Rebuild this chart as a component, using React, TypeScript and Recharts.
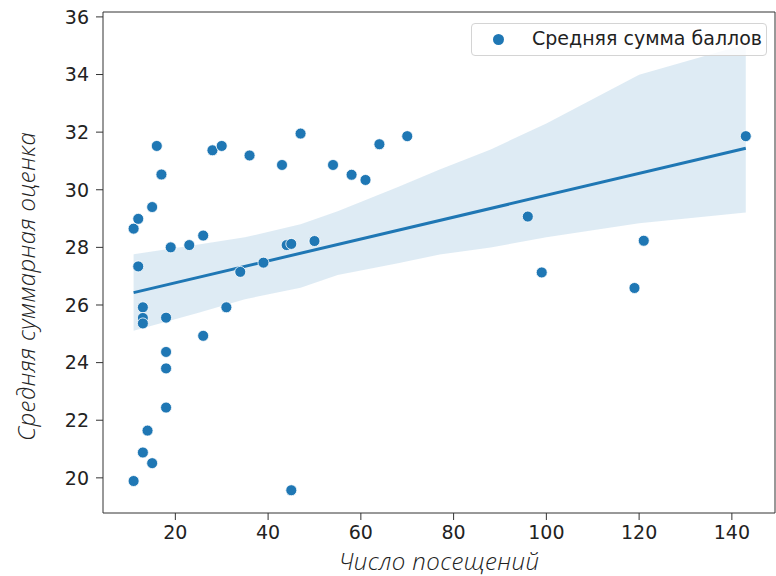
import { ComposedChart, Scatter, Line, Area, XAxis, YAxis, ReferenceLine } from "recharts";

// scatter: visits vs. mean score
const visits = [11, 12, 12, 13, 13, 13, 11, 13, 14, 15, 15, 16, 17, 18, 18, 18, 18, 19, 23, 26, 26, 28, 30, 31, 34, 39, 36, 43, 47, 44, 45, 45, 50, 54, 58, 61, 64, 70, 96, 99, 119, 121, 143];
const avgScore = [28.65, 28.99, 27.34, 25.92, 25.55, 25.36, 19.89, 20.88, 21.64, 20.51, 29.4, 31.52, 30.53, 25.56, 24.37, 23.8, 22.44, 28.0, 28.08, 28.41, 24.93, 31.37, 31.52, 25.92, 27.15, 27.47, 31.19, 30.86, 31.95, 28.08, 28.12, 19.57, 28.22, 30.86, 30.52, 30.34, 31.58, 31.86, 29.07, 27.13, 26.59, 28.23, 31.86];

// regression line end points
const regX = [11, 143];
const regY = [26.43, 31.44];

// confidence band
const bandX = [11, 25, 35, 47, 55, 68, 77, 88, 100, 120, 143];
const bandLow = [25.11, 25.73, 26.2, 26.6, 27.04, 27.45, 27.75, 28.0, 28.35, 28.84, 29.21];
const bandHigh = [27.76, 28.1, 28.35, 28.8, 29.25, 30.1, 30.7, 31.4, 32.3, 33.99, 35.05];

const xTicks = [20, 40, 60, 80, 100, 120, 140];
const yTicks = [20, 22, 24, 26, 28, 30, 32, 34, 36];

const points = visits.map((x, i) => ({ x, y: avgScore[i] }));
const reg = regX.map((x, i) => ({ x, y: regY[i] }));
const band = bandX.map((x, i) => ({ x, range: [bandLow[i], bandHigh[i]] }));

const X_DOMAIN = [4.4, 149.3];
const Y_DOMAIN = [18.78, 36.17];
const BLUE = "#1f77b4";

const tickStyle = { fontSize: 19, fill: "#222", fontFamily: "DejaVu Sans" };
const labelStyle = {
	fontSize: 24,
	fill: "#222",
	fontFamily: "Open Sans",
	fontStyle: "italic",
	fontWeight: 300,
	letterSpacing: 0.4,
};

const Dot = (props: any) => (
	<circle cx={props.cx} cy={props.cy} r={5.5} fill={BLUE} stroke="#fff" strokeWidth={0.8} />
);

const renderLegend = () => (
	<div
		style={{
			position: "absolute",
			left: 471,
			top: 23,
			width: 294,
			height: 31,
			border: "1px solid #d4d4d4",
			borderRadius: 4,
			background: "rgba(255,255,255,0.8)",
			fontFamily: "DejaVu Sans",
			fontSize: 19,
			color: "#222",
		}}
	>
		<span
			style={{
				position: "absolute",
				left: 21,
				top: 10,
				width: 11,
				height: 11,
				borderRadius: "50%",
				background: BLUE,
			}}
		></span>
		<span style={{ position: "absolute", left: 60, top: 3, whiteSpace: "nowrap" }}>Средняя сумма баллов</span>
	</div>
);

export default function App() {
	return (
		<div style={{ position: "absolute", left: 0, top: 0, width: 776, height: 576, background: "#fff" }}>
			<ComposedChart width={776} height={576} margin={{ top: 12, right: 1, bottom: 0, left: 0 }}>
				<XAxis
					type="number"
					dataKey="x"
					domain={X_DOMAIN}
					ticks={xTicks}
					allowDataOverflow
					height={63}
					tickSize={7}
					tickMargin={6}
					tick={tickStyle}
					stroke="#333"
					tickLine={{ stroke: "#333" }}
					label={{ value: "Число посещений", position: "insideBottom", offset: 6, style: labelStyle }}
				/>
				<YAxis
					type="number"
					dataKey="y"
					domain={Y_DOMAIN}
					ticks={yTicks}
					allowDataOverflow
					width={103}
					tickSize={7}
					tickMargin={7}
					tick={tickStyle}
					stroke="#333"
					tickLine={{ stroke: "#333" }}
					label={{ value: "Средняя суммарная оценка", angle: -90, position: "insideLeft", offset: 26, dy: 24, style: { ...labelStyle, textAnchor: "middle" } }}
				/>
				<ReferenceLine y={Y_DOMAIN[1]} stroke="#333" />
				<ReferenceLine x={X_DOMAIN[1]} stroke="#333" />
				<Area
					data={band}
					dataKey="range"
					type="linear"
					stroke="none"
					fill={BLUE}
					fillOpacity={0.15}
					isAnimationActive={false}
					legendType="none"
				/>
				<Line
					data={reg}
					dataKey="y"
					type="linear"
					stroke={BLUE}
					strokeWidth={3}
					dot={false}
					isAnimationActive={false}
					legendType="none"
				/>
				<Scatter data={points} dataKey="y" shape={Dot} isAnimationActive={false} name="Средняя сумма баллов" />
			</ComposedChart>
			{renderLegend()}
		</div>
	);
}
